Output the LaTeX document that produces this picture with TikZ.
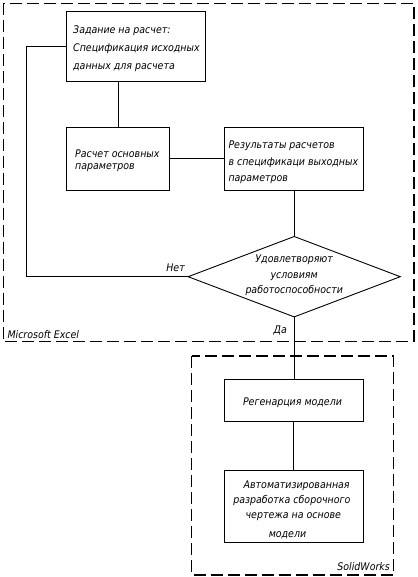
\documentclass[tikz,border=0pt]{standalone}
\usepackage{fontspec}
\setmainfont{DejaVu Sans Condensed}
\begin{document}
\begin{tikzpicture}[x=1pt,y=-1pt,
  txt/.style={font=\itshape\fontsize{10.5}{13}\selectfont, inner sep=0pt},
  blk/.style={draw, line width=0.9pt, inner sep=0pt},
  conn/.style={line width=0.9pt},
  frame/.style={line width=1.1pt, dash pattern=on 12pt off 5pt},
  lbl/.style={font=\itshape\fontsize{10.5}{13}\selectfont, inner sep=0pt, anchor=base}]
\useasboundingbox (0,0) rectangle (417,577);
% frames
\draw[frame] (3.5,3.5) rectangle (414,341.7);
\draw[frame] (191.7,356) rectangle (393.3,575);
% blocks
\node[blk, minimum width=138.3pt, minimum height=70pt] (zad) at (135.8,46.7) {};
\node[txt, anchor=base west] at (73,33.3) {Задание на расчет:};
\node[txt, anchor=base west] at (73,51.5) {Спецификация исходных};
\node[txt, anchor=base west] at (73,69.5) {данных для расчета};

\node[blk, minimum width=102.7pt, minimum height=62.7pt] (rasch) at (118,158.7) {};
\node[txt, anchor=base west] at (75,157.3) {Расчет основных};
\node[txt, anchor=base west] at (75,170) {параметров};

\node[blk, minimum width=139pt, minimum height=62.7pt] (res) at (293.8,158.7) {};
\node[txt, anchor=base west] at (228.3,148.3) {Результаты расчетов};
\node[txt, anchor=base west] at (228.3,166) {в спецификаци выходных};
\node[txt, anchor=base west] at (228.3,181.7) {параметров};

\node[minimum width=211.7pt, minimum height=80pt, inner sep=0pt] (dia) at (294.2,276.7) {};
\draw[conn] (dia.west) -- (dia.north) -- (dia.east) -- (dia.south) -- cycle;
\node[txt, anchor=base] at (294.2,262) {Удовлетворяют};
\node[txt, anchor=base] at (294.2,278) {условиям};
\node[txt, anchor=base] at (294.2,293) {работоспособности};

\node[blk, minimum width=139pt, minimum height=42.4pt] (reg) at (293.8,400.5) {};
\node[txt, anchor=base] at (292.5,405) {Регенарция модели};

\node[blk, minimum width=139pt, minimum height=72.3pt] (auto) at (293.8,506.2) {};
\node[txt, anchor=base] at (296.7,488.3) {Автоматизированная};
\node[txt, anchor=base] at (291.8,503.3) {разработка сборочного};
\node[txt, anchor=base] at (293.3,518.3) {чертежа на основе};
\node[txt, anchor=base] at (287.5,537.5) {модели};

% connectors
\draw[conn] (rasch.north) -- (rasch.north |- zad.south);
\draw[conn] (rasch.east) -- (res.west);
\draw[conn] (res.south -| dia.north) -- (dia.north);
\coordinate (lp) at (26.7,276.7);
\draw[conn] (dia.west) -- (lp) |- (zad.west);
\draw[conn] (dia.south) -- (reg.north -| dia.south);
\draw[conn] (reg.south) -- (auto.north);
% labels
\node[lbl, anchor=base east] at (185,271) {Нет};
\node[lbl, anchor=base east] at (287,333) {Да};
\node[lbl, anchor=base west] at (7.3,338) {Microsoft Excel};
\node[lbl, anchor=base east] at (390,570) {SolidWorks};
\end{tikzpicture}
\end{document}
